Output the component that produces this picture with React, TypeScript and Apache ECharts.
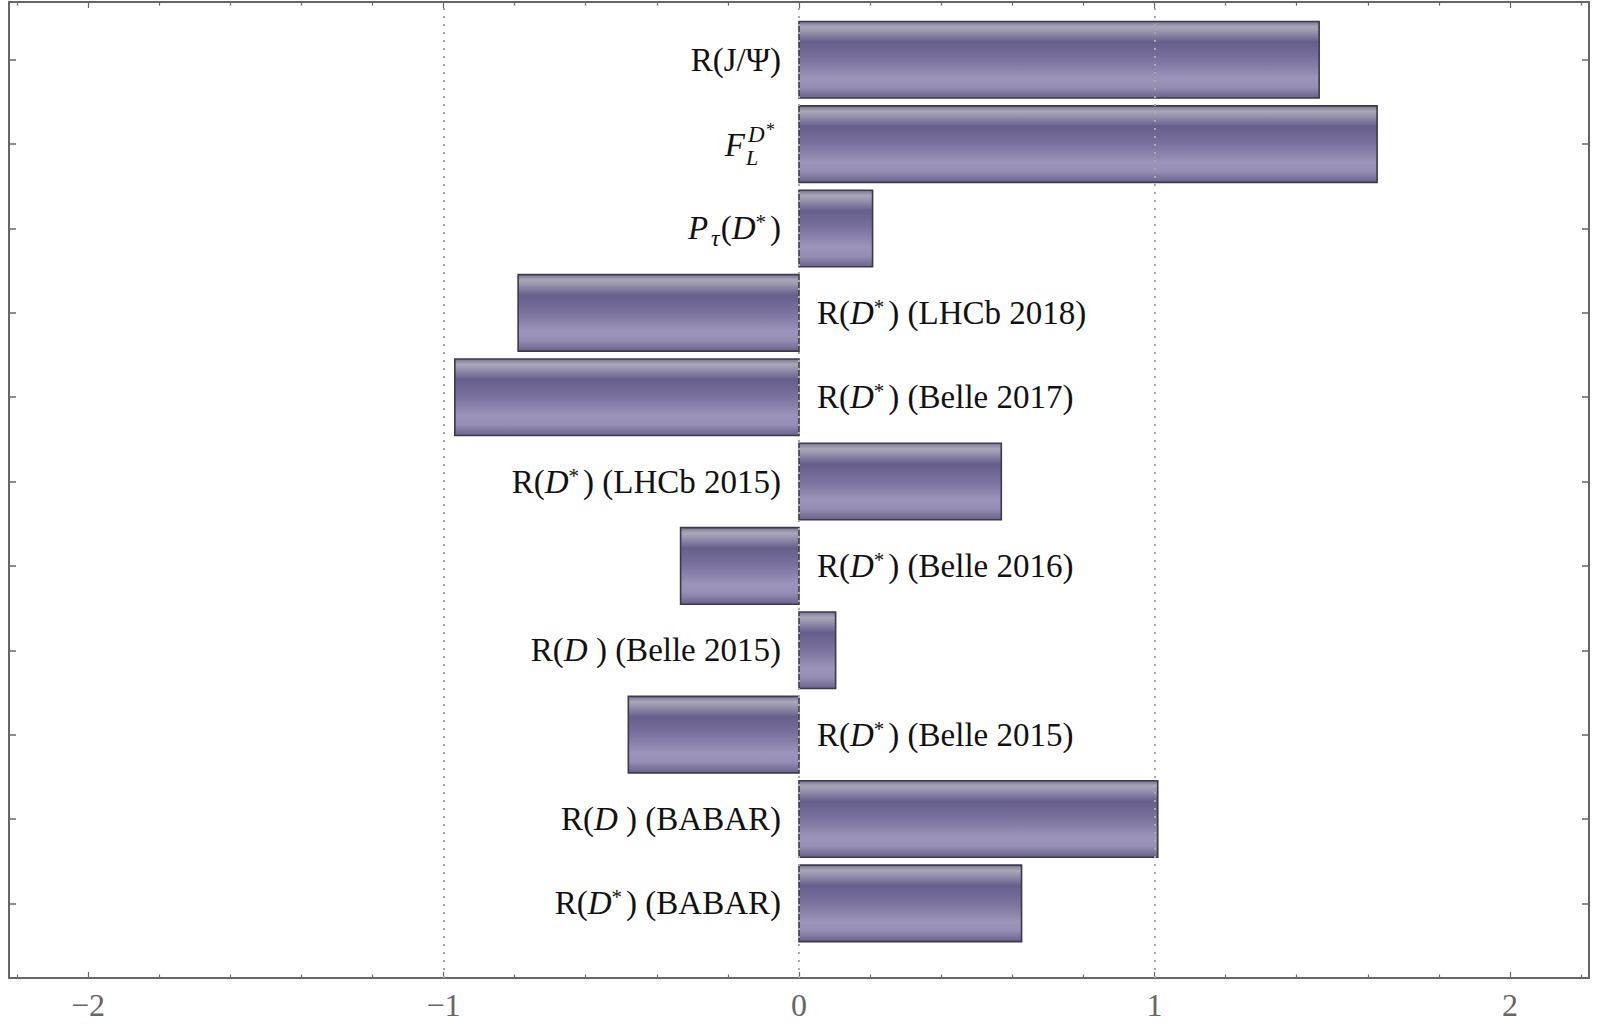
import React, { useEffect, useRef } from "react";
import * as echarts from "echarts";

// Labels from top to bottom (rich-text markup: i = italic, sup = superscript, sub = subscript)
const labels: string[] = [
  "R(J/Ψ)",
  "F_L^D*",
  "{i|P}{sub|τ}{n|(}{i|D}{sup|*}{n|)}",
  "R({i|D}{sup|*}{n|) (LHCb 2018)}",
  "R({i|D}{sup|*}{n|) (Belle 2017)}",
  "R({i|D}{sup|*}{n|) (LHCb 2015)}",
  "R({i|D}{sup|*}{n|) (Belle 2016)}",
  "R({i|D}{n| ) (Belle 2015)}",
  "R({i|D}{sup|*}{n|) (Belle 2015)}",
  "R({i|D}{n| ) (BABAR)}",
  "R({i|D}{sup|*}{n|) (BABAR)}",
];
// Values, same order
const values: number[] = [1.463, 1.626, 0.207, -0.79, -0.968, 0.569, -0.333, 0.103, -0.48, 1.009, 0.626];

const xMajorTicks: number[] = [-2, -1, 0, 1, 2];
const xMinorTicks: number[] = [
  -2.2, -1.8, -1.6, -1.4, -1.2, -0.8, -0.6, -0.4, -0.2, 0.2, 0.4, 0.6, 0.8, 1.2, 1.4, 1.6, 1.8, 2.2,
];
const gridLineValues: number[] = [-1, 0, 1];
const X_MIN = -2.222;
const X_MAX = 2.222;
const Y_MIN = 0.115;
const Y_MAX = 11.685;
const BAR_WIDTH = 0.907;

const SERIF = "'Liberation Serif', 'Times New Roman', serif";
const FS = 33;

export default function App() {
  const ref = useRef<HTMLDivElement>(null);
  useEffect(() => {
    document.body.style.margin = "0";
    const chart = echarts.init(ref.current!, null, { renderer: "svg" });
    const n = values.length;
    const yTicks = values.map((_, i) => n - i);
    const data = values.map((v, i) => [v, n - i, i]);

    const barFill = new echarts.graphic.LinearGradient(0, 0, 0, 1, [
      { offset: 0, color: "#7a7298" },
      { offset: 0.07, color: "#aaa7b6" },
      { offset: 0.13, color: "#9994ae" },
      { offset: 0.27, color: "#665e8b" },
      { offset: 0.5, color: "#7b729e" },
      { offset: 0.74, color: "#9c94ba" },
      { offset: 0.86, color: "#958db3" },
      { offset: 1, color: "#6a628c" },
    ]);

    const rich = {
      n: { fontFamily: SERIF, fontSize: FS, lineHeight: 44, fill: "#111" },
      i: { fontFamily: SERIF, fontSize: FS, fontStyle: "italic", lineHeight: 44, fill: "#111" },
      sup: { fontFamily: SERIF, fontSize: 21, lineHeight: 22, verticalAlign: "middle", fill: "#111", padding: [0, 4, 12, 0] },
      sub: { fontFamily: SERIF, fontSize: 24, fontStyle: "italic", lineHeight: 30, verticalAlign: "bottom", fill: "#111", padding: [0, 1, 0, 3] },
    };

    const axisLineStyle = { color: "#666", width: 2 };
    const tickLabel = {
      color: "#666",
      fontFamily: SERIF,
      fontSize: 32,
      margin: 11,
      customValues: xMajorTicks,
      formatter: (v: number) => (v < 0 ? "\u2212" + Math.abs(v) : String(v)),
    };

    const makeX = (pos: "top" | "bottom", major: boolean, showLabel: boolean) => ({
      type: "value",
      position: pos,
      min: X_MIN,
      max: X_MAX,
      axisLine: { show: major, onZero: false, lineStyle: axisLineStyle },
      axisTick: {
        show: true,
        inside: true,
        length: major ? 6 : 3.5,
        customValues: major ? xMajorTicks : xMinorTicks,
        lineStyle: { color: "#666", width: 1.2 },
      },
      axisLabel: showLabel ? tickLabel : { show: false },
      splitLine: { show: false },
    });

    const makeY = (pos: "left" | "right") => ({
      type: "value",
      position: pos,
      min: Y_MIN,
      max: Y_MAX,
      axisLine: { show: true, onZero: false, lineStyle: axisLineStyle },
      axisTick: { show: true, inside: true, length: 7, customValues: yTicks, lineStyle: { color: "#666", width: 1.5 } },
      axisLabel: { show: false },
      splitLine: { show: false },
    });

    chart.setOption({
      animation: false,
      grid: { left: 9, right: 11, top: 2, bottom: 46, containLabel: false, outerBoundsMode: "none" },
      xAxis: [makeX("bottom", true, true), makeX("bottom", false, false), makeX("top", true, false), makeX("top", false, false)],
      yAxis: [makeY("left"), makeY("right")],
      series: [
        {
          type: "scatter",
          data: [],
          xAxisIndex: 0,
          yAxisIndex: 0,
          silent: true,
          markLine: {
            silent: true,
            symbol: "none",
            label: { show: false },
            lineStyle: { color: "#aaa", width: 2, type: [2, 6] },
            data: gridLineValues.map((v) => ({ xAxis: v })),
          },
        },
        {
          type: "custom",
          xAxisIndex: 0,
          yAxisIndex: 0,
          clip: false,
          data,
          renderItem: (_params: any, api: any) => {
            const val = api.value(0);
            const pos = api.value(1);
            const idx = api.value(2);
            const p0 = api.coord([0, pos]);
            const p1 = api.coord([val, pos]);
            const h = api.size([0, BAR_WIDTH])[1];
            const x = Math.min(p0[0], p1[0]);
            const w = Math.abs(p1[0] - p0[0]);
            const children: any[] = [
              {
                type: "rect",
                shape: { x, y: p0[1] - h / 2, width: w, height: h },
                style: { fill: barFill, stroke: "#3c3a48", lineWidth: 1.6 },
              },
            ];
            const label = labels[idx];
            const positive = val > 0;
            const ax = positive ? p0[0] - 18 : p0[0] + 18;
            const cy = p0[1];
            if (label === "F_L^D*") {
              children.push(
                {
                  type: "text",
                  x: ax - 36,
                  y: cy + 1,
                  style: { text: "F", fill: "#111", font: `italic 33px ${SERIF}`, align: "right", verticalAlign: "middle" },
                },
                {
                  type: "text",
                  x: ax - 35,
                  y: cy + 13,
                  style: { text: "L", fill: "#111", font: `italic 22px ${SERIF}`, align: "left", verticalAlign: "middle" },
                },
                {
                  type: "text",
                  x: ax - 33,
                  y: cy - 10,
                  style: { text: "D", fill: "#111", font: `italic 23px ${SERIF}`, align: "left", verticalAlign: "middle" },
                },
                {
                  type: "text",
                  x: ax - 15,
                  y: cy - 14,
                  style: { text: "*", fill: "#111", font: `18px ${SERIF}`, align: "left", verticalAlign: "middle" },
                }
              );
            } else {
              children.push({
                type: "text",
                x: ax,
                y: cy,
                style: {
                  text: label,
                  rich,
                  fill: "#111",
                  font: `${FS}px ${SERIF}`,
                  lineHeight: 44,
                  align: positive ? "right" : "left",
                  verticalAlign: "middle",
                },
              });
            }
            return { type: "group", children };
          },
        },
      ],
    });
    return () => chart.dispose();
  }, []);
  return <div ref={ref} style={{ width: 1600, height: 1024 }} />;
}
